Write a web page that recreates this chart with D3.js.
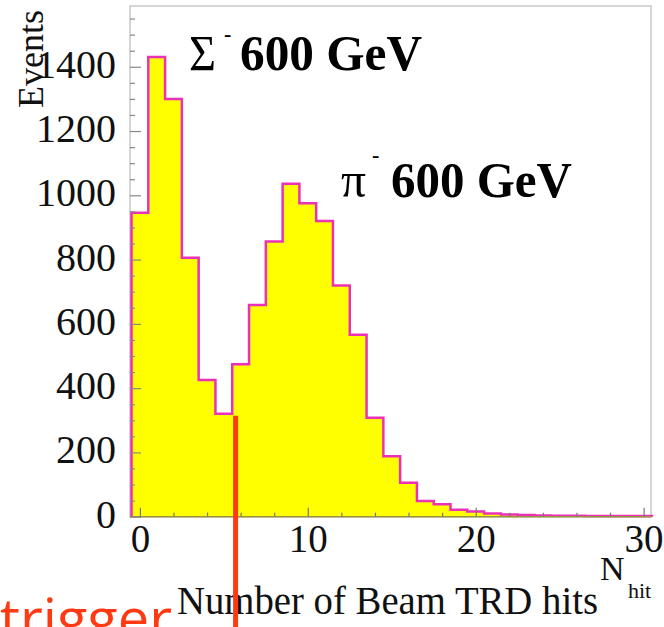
<!DOCTYPE html>
<html>
<head>
<meta charset="utf-8">
<script src="https://cdn.jsdelivr.net/npm/d3@7"></script>
<style>
  html, body { margin: 0; padding: 0; background: #fff; }
  svg { display: block; }
</style>
</head>
<body>
<div id="chart"></div>
<script>
// ---- data ----
const binCenters = d3.range(0, 31);            // N_hit bins 0..30
const events = [946, 1430, 1300, 806, 425, 320, 474, 659, 856, 1036,
                975, 920, 719, 566, 308, 188, 106, 49, 39, 22,
                16, 10, 7, 5, 4, 3, 3, 2, 2, 2, 2];
const xTicks = [0, 10, 20, 30];
const yTicks = [0, 200, 400, 600, 800, 1000, 1200, 1400];
const labels = [
  { sym: "Σ", rest: "600 GeV" },
  { sym: "π", rest: "600 GeV" }
];
const xTitle = "Number of Beam TRD hits";
const yTitle = "Events";
const triggerText = "trigger";
const triggerAt = 5.7;   // N_hit position of the trigger cut marker

// ---- layout ----
const W = 664, H = 627;
const mLeft = 130, mRight = 651, mTop = 6, mBottom = 516.7;
const serif = "'Liberation Serif','Times New Roman',serif";

const svg = d3.select("#chart").append("svg")
  .attr("width", W).attr("height", H);

const x = d3.scaleLinear().domain([-0.5, 30.5]).range([131.5, 652]);
const y = d3.scaleLinear().domain([0, 1589]).range([mBottom, mTop]);

// frame
svg.append("rect")
  .attr("x", mLeft).attr("y", mTop)
  .attr("width", mRight - mLeft).attr("height", mBottom - mTop)
  .attr("fill", "#fff").attr("stroke", "#c8c8c8").attr("stroke-width", 1.5);

// histogram
const pts = binCenters.map((c, i) => [c - 0.5, events[i]]);
pts.push([30.5, events[events.length - 1]]);

const area = d3.area()
  .x(d => x(d[0])).y0(y(0)).y1(d => y(d[1]))
  .curve(d3.curveStepAfter);
svg.append("path").datum(pts)
  .attr("d", area).attr("fill", "#ffff00");

const outline = [[-0.5, 0], ...pts, [30.5, 0]];
const line = d3.line()
  .x(d => x(d[0])).y(d => y(d[1]))
  .curve(d3.curveStepAfter);
svg.append("path").datum(outline)
  .attr("d", line).attr("fill", "none")
  .attr("stroke", "#ec30b8").attr("stroke-width", 2.5)
  .attr("stroke-linejoin", "miter");

// bottom axis line
svg.append("line")
  .attr("x1", mLeft).attr("x2", mRight).attr("y1", mBottom).attr("y2", mBottom)
  .attr("stroke", "#9a9440").attr("stroke-width", 1.5);

// x axis
const xMinor = d3.range(0, 31, 2).filter(v => v % 10 !== 0);
const gxMinor = svg.append("g").attr("transform", `translate(0,${mBottom})`)
  .call(d3.axisBottom(x).tickValues(xMinor).tickSizeInner(-4).tickSizeOuter(0).tickFormat(""));
const gx = svg.append("g").attr("transform", `translate(0,${mBottom})`)
  .call(d3.axisBottom(x).tickValues(xTicks).tickSizeInner(-9).tickSizeOuter(0).tickFormat(d3.format("d")));
[gx, gxMinor].forEach(g => {
  g.select(".domain").remove();
  g.selectAll(".tick line").attr("stroke", "#777").attr("stroke-width", 1.2);
});
gx.selectAll(".tick text")
  .attr("y", 35.5).attr("dy", 0)
  .attr("font-family", serif).attr("font-size", 39).attr("fill", "#111");

// y axis
const yMinor = d3.range(0, 1589, 50).filter(v => v % 200 !== 0);
const gyMinor = svg.append("g").attr("transform", `translate(${mLeft},0)`)
  .call(d3.axisLeft(y).tickValues(yMinor).tickSizeInner(-5).tickSizeOuter(0).tickFormat(""));
const gy = svg.append("g").attr("transform", `translate(${mLeft},0)`)
  .call(d3.axisLeft(y).tickValues(yTicks).tickSizeInner(-11).tickSizeOuter(0).tickPadding(14).tickFormat(d3.format("d")));
[gy, gyMinor].forEach(g => {
  g.select(".domain").remove();
  g.selectAll(".tick line").attr("stroke", "#888").attr("stroke-width", 1.2);
});
gy.selectAll(".tick text")
  .attr("dy", 0).attr("y", 10.5)
  .attr("font-family", serif).attr("font-size", 40).attr("fill", "#111");

// y title
svg.append("text")
  .attr("transform", "translate(43,10) rotate(-90)")
  .attr("text-anchor", "end")
  .attr("font-family", serif).attr("font-size", 36).attr("fill", "#111")
  .text(yTitle);

// x title
svg.append("text")
  .attr("x", 177).attr("y", 614)
  .attr("font-family", serif).attr("font-size", 39).attr("fill", "#111")
  .attr("textLength", 421).attr("lengthAdjust", "spacingAndGlyphs")
  .text(xTitle);
svg.append("text")
  .attr("x", 600).attr("y", 580)
  .attr("font-family", serif).attr("font-size", 34).attr("fill", "#111")
  .text("N");
svg.append("text")
  .attr("x", 628).attr("y", 598)
  .attr("font-family", serif).attr("font-size", 22).attr("fill", "#111")
  .text("hit");

// particle labels
const labelPos = [
  { sx: 189, sw: 27, dx: 224, dy: 41, rx: 240, rw: 182, base: 70, fs: 50 },
  { sx: 341, sw: 25, dx: 372, dy: 162, rx: 391, rw: 181, base: 197, fs: 50 }
];
labels.forEach((l, i) => {
  const p = labelPos[i];
  svg.append("text")
    .attr("x", p.sx).attr("y", p.base)
    .attr("font-family", serif).attr("font-size", p.fs).attr("fill", "#000")
    .attr("textLength", p.sw).attr("lengthAdjust", "spacingAndGlyphs")
    .text(l.sym);
  svg.append("text")
    .attr("x", p.dx).attr("y", p.dy)
    .attr("font-family", serif).attr("font-size", 22).attr("font-weight", "bold").attr("fill", "#000")
    .text("-");
  svg.append("text")
    .attr("x", p.rx).attr("y", p.base)
    .attr("font-family", serif).attr("font-size", p.fs).attr("font-weight", "bold").attr("fill", "#000")
    .attr("textLength", p.rw).attr("lengthAdjust", "spacingAndGlyphs")
    .text(l.rest);
});

// trigger marker
svg.append("line")
  .attr("x1", x(triggerAt)).attr("x2", x(triggerAt))
  .attr("y1", y(events[5]) + 2).attr("y2", H)
  .attr("stroke", "#ff3a12").attr("stroke-width", 5);
svg.append("text")
  .attr("x", 0).attr("y", 638)
  .attr("font-family", "'Open Sans','Noto Sans',sans-serif").attr("font-size", 54)
  .attr("fill", "#ff3a12")
  .attr("textLength", 172).attr("lengthAdjust", "spacingAndGlyphs")
  .text(triggerText);
</script>
</body>
</html>
